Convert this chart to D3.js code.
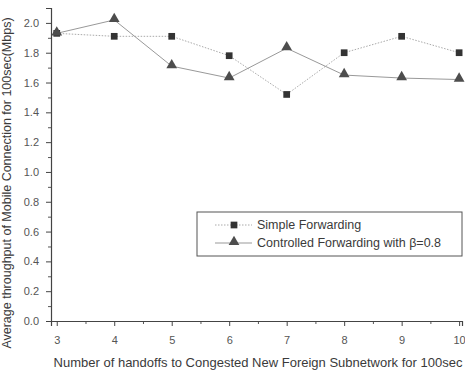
<!DOCTYPE html>
<html>
<head>
<meta charset="utf-8">
<script src="https://cdn.jsdelivr.net/npm/d3@7"></script>
<style>
  body { margin: 0; background: #fff; }
  text { font-family: "Liberation Sans", Arial, sans-serif; fill: #3a3a3a; }
</style>
</head>
<body>
<div id="chart"></div>
<script>
var w = 465, h = 370;

var handoffs = [3, 4, 5, 6, 7, 8, 9, 10];
var simpleFwd = [1.93, 1.91, 1.91, 1.78, 1.52, 1.80, 1.91, 1.80];
var controlledFwd = [1.93, 2.02, 1.71, 1.63, 1.83, 1.65, 1.63, 1.62];
var seriesNames = ["Simple Forwarding", "Controlled Forwarding with \u03B2=0.8"];
var yTicks = [0, 0.2, 0.4, 0.6, 0.8, 1.0, 1.2, 1.4, 1.6, 1.8, 2.0];

var svg = d3.select("#chart").append("svg")
    .attr("width", w)
    .attr("height", h);

var x = d3.scaleLinear().domain([2.9, 10.05]).range([51, 462]),
    y = d3.scaleLinear().domain([0, 2.1]).range([321, 8]);

// minor ticks first
svg.append("g")
    .attr("transform", "translate(51,0)")
    .call(d3.axisLeft(y).tickValues(d3.range(0.1, 2.1, 0.2)).tickSize(3).tickFormat(""))
    .call(function(g) { g.select(".domain").remove(); })
    .selectAll("line").attr("stroke", "#555");

svg.append("g")
    .attr("transform", "translate(0,321)")
    .call(d3.axisBottom(x).tickValues(d3.range(3.5, 10, 1)).tickSize(3).tickFormat(""))
    .call(function(g) { g.select(".domain").remove(); })
    .selectAll("line").attr("stroke", "#555");

var yAxis = svg.append("g")
    .attr("transform", "translate(51,0)")
    .call(d3.axisLeft(y).tickValues(yTicks).tickSize(5).tickPadding(7).tickFormat(d3.format(".1f")));

var xAxis = svg.append("g")
    .attr("transform", "translate(0,321)")
    .call(d3.axisBottom(x).tickValues(handoffs).tickSize(5).tickPadding(10).tickFormat(d3.format("d")));

[yAxis, xAxis].forEach(function(g) {
    g.select(".domain").attr("stroke", "#444").attr("stroke-width", 1.2);
    g.selectAll(".tick line").attr("stroke", "#444");
    g.selectAll(".tick text")
        .style("font-size", "11px")
        .style("fill", "#555");
});

// axis titles
svg.append("text")
    .attr("transform", "translate(11," + 183 + ") rotate(-90)")
    .attr("text-anchor", "middle")
    .style("font-size", "12.5px")
    .text("Average throughput of Mobile Connection for 100sec(Mbps)");

svg.append("text")
    .attr("x", 258)
    .attr("y", 367)
    .attr("text-anchor", "middle")
    .style("font-size", "13px")
    .text("Number of handoffs to Congested New Foreign Subnetwork for 100sec");

var line = d3.line()
    .x(function(d, i) { return x(handoffs[i]); })
    .y(function(d) { return y(d); });

// simple forwarding: dotted line, squares
svg.append("path")
    .datum(simpleFwd)
    .attr("d", line)
    .attr("fill", "none")
    .attr("stroke", "#aaa")
    .attr("stroke-width", 1)
    .attr("stroke-dasharray", "1.5,1.5");

// controlled forwarding: solid line, triangles
svg.append("path")
    .datum(controlledFwd)
    .attr("d", line)
    .attr("fill", "none")
    .attr("stroke", "#999")
    .attr("stroke-width", 1);

var sq = d3.symbol().type(d3.symbolSquare).size(45),
    tri = d3.symbol().type(d3.symbolTriangle).size(50);

svg.selectAll(".sq")
    .data(simpleFwd)
    .enter().append("path")
    .attr("class", "sq")
    .attr("d", sq)
    .attr("transform", function(d, i) { return "translate(" + x(handoffs[i]) + "," + y(d) + ")"; })
    .attr("fill", "#333");

svg.selectAll(".tri")
    .data(controlledFwd)
    .enter().append("path")
    .attr("class", "tri")
    .attr("d", tri)
    .attr("transform", function(d, i) { return "translate(" + x(handoffs[i]) + "," + (y(d) - 1) + ")"; })
    .attr("fill", "#4d4d4d");

// legend
var lg = svg.append("g").attr("transform", "translate(197,212)");
lg.append("rect")
    .attr("width", 265)
    .attr("height", 44)
    .attr("fill", "#fff")
    .attr("stroke", "#555")
    .attr("stroke-width", 1);

seriesNames.forEach(function(name, i) {
    var yy = 13 + i * 18;
    lg.append("line")
        .attr("x1", 18).attr("x2", 55)
        .attr("y1", yy).attr("y2", yy)
        .attr("stroke", i == 0 ? "#aaa" : "#999")
        .attr("stroke-dasharray", i == 0 ? "1.5,1.5" : null);
    lg.append("path")
        .attr("d", i == 0 ? sq : tri)
        .attr("transform", "translate(37," + (i == 0 ? yy : yy - 1) + ")")
        .attr("fill", i == 0 ? "#333" : "#4d4d4d");
    lg.append("text")
        .attr("x", 60)
        .attr("y", yy + 4)
        .style("font-size", "12.5px")
        .text(name);
});
</script>
</body>
</html>
